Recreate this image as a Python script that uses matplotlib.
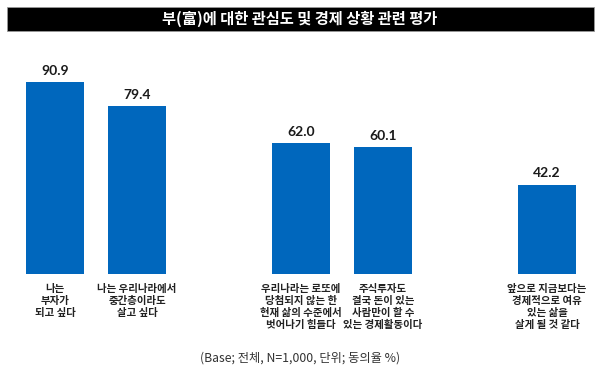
import matplotlib
matplotlib.use("Agg")
import matplotlib.pyplot as plt
from matplotlib.patches import Rectangle
import matplotlib.transforms as mtransforms

plt.rcParams['font.family'] = ['Noto Sans CJK KR', 'DejaVu Sans']

title = "부(富)에 대한 관심도 및 경제 상황 관련 평가"
categories = [
    "나는\n부자가\n되고 싶다",
    "나는 우리나라에서\n중간층이라도\n살고 싶다",
    "우리나라는 로또에\n당첨되지 않는 한\n현재 삶의 수준에서\n벗어나기 힘들다",
    "주식투자도\n결국 돈이 있는\n사람만이 할 수\n있는 경제활동이다",
    "앞으로 지금보다는\n경제적으로 여유\n있는 삶을\n살게 될 것 같다",
]
values = [90.9, 79.4, 62.0, 60.1, 42.2]
value_labels = ["90.9", "79.4", "62.0", "60.1", "42.2"]
positions = [0, 1, 3, 4, 6]
footnote = "(Base; 전체, N=1,000, 단위; 동의율 %)"

W, H = 600, 382
fig = plt.figure(figsize=(W / 100, H / 100), dpi=100)
fig.patch.set_facecolor("white")

# title box
fig.patches.append(Rectangle((7 / W, 1 - 31 / H), 587 / W, 24 / H,
                             transform=fig.transFigure, facecolor="black",
                             edgecolor="#999999", linewidth=0.6))
fig.text(0.5, 1 - 19 / H, title, color="white", fontsize=11, fontweight="bold",
         ha="center", va="center")

ax = fig.add_axes([0, (H - 274) / H, 1, 211 / H])
ax.bar(positions, values, width=58 / 82, color="#0067BD")
ax.set_xlim(-55 / 82, 545 / 82)
ax.set_ylim(0, 100)
ax.axis("off")

for x, v, lab in zip(positions, values, value_labels):
    ax.annotate(lab, (x, v), xytext=(0, 4), textcoords="offset points",
                ha="center", va="bottom", fontsize=10, fontweight="bold",
                color="#1a1a1a", family=["Lato", "DejaVu Sans"])

trans = mtransforms.blended_transform_factory(ax.transData, fig.transFigure)
for x, c in zip(positions, categories):
    ax.text(x, 1 - 284 / H, c, transform=trans, ha="center", va="top",
            fontsize=7.5, fontweight="bold", color="#222222", linespacing=1.25)

fig.text(0.5, 1 - 358 / H, footnote, ha="center", va="center",
         fontsize=8.8, color="#333333")

fig.savefig("out.png", dpi=100)
